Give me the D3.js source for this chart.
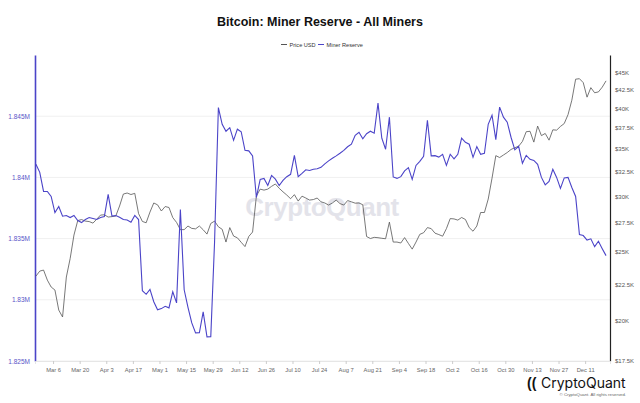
<!DOCTYPE html>
<html><head><meta charset="utf-8">
<script src="https://cdn.jsdelivr.net/npm/d3@7"></script>
<style>
html,body{margin:0;padding:0;background:#fff;}
svg{display:block;font-family:"Liberation Sans",Arial,Helvetica,sans-serif;}
</style></head>
<body><svg id="c" width="640" height="403"></svg>
<script>
// ---- data (2-day samples starting 2023-02-25) ----
const startDate = "2023-02-25";
const stepDays = 2;
const minerReserve = [
1841.07,1840.41,1838.85,1838.85,1838.44,1837.13,1837.62,1836.83,1836.89,1836.72,
1836.89,1836.48,1836.31,1836.56,1836.72,1836.64,1836.56,1836.72,1836.80,1838.61,
1836.84,1836.89,1836.75,1836.56,1836.52,1836.34,1836.89,1836.56,1830.74,1830.45,
1830.85,1829.84,1829.18,1829.28,1829.47,1829.34,1830.66,1829.75,1837.38,1830.82,
1829.39,1828.11,1827.30,1827.31,1829.02,1826.97,1826.99,1834.75,1845.71,1844.34,
1843.77,1844.06,1843.03,1843.94,1843.73,1842.21,1842.17,1841.75,1838.36,1839.84,
1839.92,1839.34,1840.16,1839.86,1839.34,1839.75,1840.06,1840.25,1841.80,1840.06,
1840.33,1840.62,1840.57,1840.66,1840.70,1840.82,1841.11,1841.35,1841.56,1841.76,
1841.97,1842.21,1842.50,1842.71,1843.44,1843.69,1843.16,1843.57,1843.77,1843.61,
1846.07,1843.20,1842.30,1844.92,1840.04,1839.92,1840.06,1840.53,1840.80,1839.84,
1840.98,1841.31,1841.72,1844.67,1841.76,1841.78,1841.66,1841.89,1840.98,1841.89,
1841.52,1841.89,1843.20,1842.87,1842.71,1841.64,1842.52,1841.89,1841.97,1844.34,
1845.08,1843.09,1845.74,1844.92,1844.51,1843.28,1842.25,1842.54,1841.15,1841.80,
1841.48,1841.39,1841.07,1840.00,1839.39,1839.67,1840.66,1840.00,1839.10,1839.96,
1840.00,1839.18,1838.44,1835.33,1835.25,1834.88,1834.98,1834.34,1834.78,1834.18,
1833.61]; // thousand BTC
const priceUSD = [
23100,23480,23560,22800,22290,22070,20670,20210,23030,24460,
26420,27700,27790,27650,27610,27470,27830,28200,28230,28020,
28060,28110,29050,30210,30310,30160,30280,28340,27620,27500,
28480,29340,29160,28580,29000,28910,27970,27530,26890,26890,
27210,27000,26960,27210,26880,26500,27440,27650,27140,26920,
25820,27070,26330,26180,25800,25440,26300,26680,30010,30700,
30600,30700,30980,31220,30780,30430,30110,29750,30150,29520,
30000,29820,29620,29670,29820,29450,29340,29140,29340,29620,
29280,29140,29570,29450,29320,29340,29170,26290,26120,26220,
26190,26140,26100,27560,25820,25820,25740,26200,25700,25230,
25820,26480,26620,27070,26980,26580,26460,26320,26980,27880,
27850,27740,27980,27800,27070,26750,27210,28440,28440,29720,
31820,34250,34040,34320,34600,34950,35150,35320,35880,37040,
37090,35800,37730,36570,36830,36030,37270,37230,37680,38040,
39170,41060,43980,44050,43490,41470,42780,42070,42190,42850,
43740];
const reserveTicks = [1.825, 1.83, 1.835, 1.84, 1.845];
const reserveTickLabels = ["1.825M","1.83M","1.835M","1.84M","1.845M"];
const priceTicks = [17500,20000,22500,25000,27500,30000,32500,35000,37500,40000,42500,45000];
const priceTickLabels = ["$17.5K","$20K","$22.5K","$25K","$27.5K","$30K","$32.5K","$35K","$37.5K","$40K","$42.5K","$45K"];
const xTickLabels = ["Mar 6","Mar 20","Apr 3","Apr 17","May 1","May 15","May 29","Jun 12","Jun 26","Jul 10","Jul 24","Aug 7","Aug 21","Sep 4","Sep 18","Oct 2","Oct 16","Oct 30","Nov 13","Nov 27","Dec 11"];
const legendLabels = ["Price USD","Miner Reserve"];

// ---- build ----
const svg = d3.select("#c");
const W = 640, H = 403;
const m = {l:35, r:30, t:55, b:42};
const pw = W - m.l - m.r, ph = H - m.t - m.b;
const cReserve = "#4b44c8", cPrice = "#555";

const parseStart = d3.utcParse("%Y-%m-%d")(startDate);
const dates = minerReserve.map((_, i) => d3.utcDay.offset(parseStart, i*stepDays));
const parseTick = d3.utcParse("%b %e %Y");
const tickDates = xTickLabels.map(s => parseTick(s + " 2023"));

const x0 = d3.utcHour.offset(d3.utcParse("%Y-%m-%d")("2023-02-24"), 12);
const x1 = d3.utcHour.offset(x0, Math.round(302.6*24));
const x = d3.scaleUtc().domain([x0, x1]).range([m.l, m.l + pw]);
const yL = d3.scaleLinear().domain([1.825, 1.85]).range([m.t + ph, m.t]);
const yR = d3.scaleLog().domain([17500, 47600]).range([m.t + ph, m.t]);

// title
svg.append("text").attr("x", 320).attr("y", 26).attr("text-anchor","middle")
  .attr("font-size", 12.5).attr("font-weight","bold").attr("fill","#111")
  .text("Bitcoin: Miner Reserve - All Miners");

// legend
const lg = svg.append("g").attr("font-size", 5.6).attr("fill","#333");
[[legendLabels[0], cPrice, 281],[legendLabels[1], cReserve, 318]].forEach(([t,c,lx])=>{
  lg.append("line").attr("x1",lx).attr("x2",lx+6).attr("y1",44.5).attr("y2",44.5).attr("stroke",c).attr("stroke-width",1);
  lg.append("text").attr("x",lx+8.5).attr("y",46.5).text(t);
});

// gridlines
svg.append("g").selectAll("line").data(reserveTicks).join("line")
  .attr("x1", m.l).attr("x2", m.l + pw)
  .attr("y1", d => yL(d)).attr("y2", d => yL(d))
  .attr("stroke", "#f0f0f0").attr("stroke-width", 1);

// watermark
svg.append("text").attr("x", 322).attr("y", 216).attr("text-anchor","middle")
  .attr("font-size", 26).attr("font-weight","bold").attr("fill","#c9c9d6").attr("opacity",0.5)
  .attr("letter-spacing", -0.5)
  .text("CryptoQuant");

// left axis
const axL = d3.axisLeft(yL).tickValues(reserveTicks).tickFormat((d,i)=>reserveTickLabels[i]).tickSize(0).tickPadding(5);
const gL = svg.append("g").attr("transform", `translate(${m.l},0)`).call(axL);
gL.select(".domain").attr("stroke",cReserve).attr("stroke-width",1.6);
gL.selectAll("text").attr("font-size",6.5).attr("fill","#5a55c8").attr("font-family","inherit");

// right axis
const axR = d3.axisRight(yR).tickValues(priceTicks).tickFormat((d,i)=>priceTickLabels[i]).tickSize(0).tickPadding(5);
const gR = svg.append("g").attr("transform", `translate(${m.l+pw},0)`).call(axR);
gR.select(".domain").attr("stroke","#222").attr("stroke-width",1.2);
gR.selectAll("text").attr("font-size",6).attr("fill","#555").attr("font-family","inherit");

// bottom axis
const axB = d3.axisBottom(x).tickValues(tickDates).tickFormat((d,i)=>xTickLabels[i]).tickSize(3).tickPadding(4);
const gB = svg.append("g").attr("transform", `translate(0,${m.t+ph})`).call(axB);
gB.select(".domain").attr("stroke","#e6e6e6");
gB.selectAll(".tick line").attr("stroke","#ccc");
gB.selectAll("text").attr("font-size",5.8).attr("fill","#666").attr("font-family","inherit");

// lines
const lineP = d3.line().x((d,i)=>x(dates[i])).y(d=>yR(d));
const lineR = d3.line().x((d,i)=>x(dates[i])).y(d=>yL(d/1000));
svg.append("path").datum(priceUSD).attr("d", lineP).attr("fill","none")
  .attr("stroke",cPrice).attr("stroke-width",0.8);
svg.append("path").datum(minerReserve).attr("d", lineR).attr("fill","none")
  .attr("stroke",cReserve).attr("stroke-width",1.1);

// logo
const lo = svg.append("g");
lo.append("text").attr("x", 527).attr("y", 388).attr("font-size", 14).attr("font-weight","bold").attr("fill","#111").text("((");
lo.append("text").attr("x", 541).attr("y", 388).attr("font-size", 14).attr("fill","#111").attr("font-family","Inter, 'Liberation Sans', sans-serif").text("CryptoQuant");
lo.append("text").attr("x", 626).attr("y", 396).attr("text-anchor","end").attr("font-size", 4.3).attr("fill","#666").text("© CryptoQuant. All rights reserved.");
</script></body></html>
